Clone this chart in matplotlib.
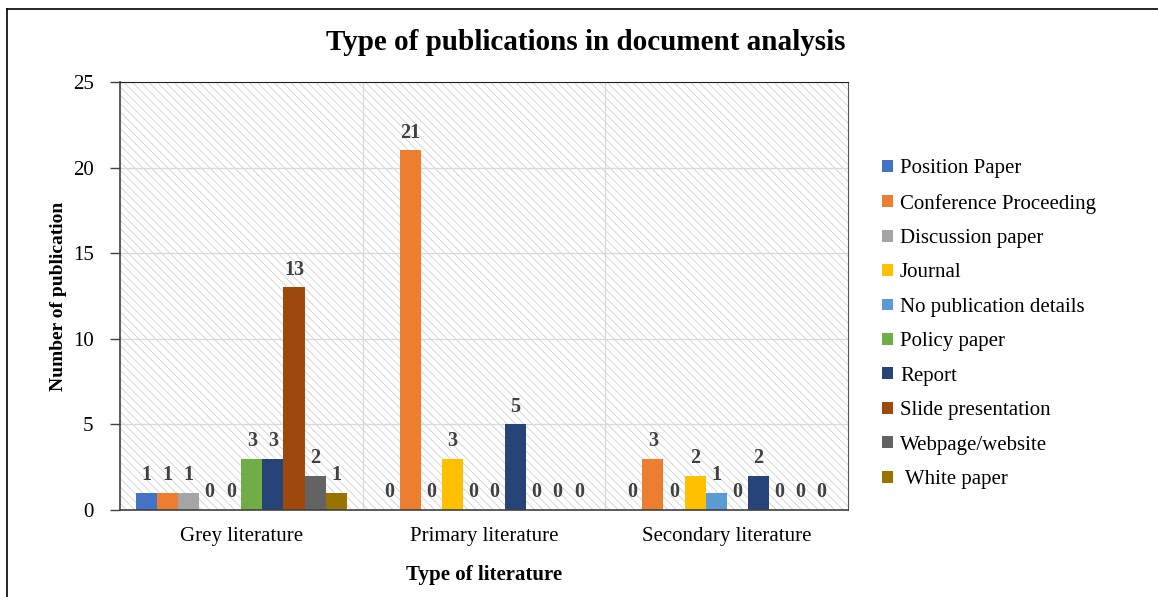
"""
Type of publications in document analysis - grouped bar chart
"""

import numpy as np
import matplotlib
matplotlib.use("Agg")
import matplotlib.pyplot as plt
from matplotlib.patches import Rectangle
from matplotlib.lines import Line2D

categories = ["Grey literature", "Primary literature", "Secondary literature"]
series_names = ["Position Paper", "Conference Proceeding", "Discussion paper", "Journal",
                "No publication details", "Policy paper", "Report", "Slide presentation",
                "Webpage/website", " White paper"]
position_paper = [1, 0, 0]
conference = [1, 21, 3]
discussion = [1, 0, 0]
journal = [0, 3, 2]
no_details = [0, 0, 1]
policy = [3, 0, 0]
report = [3, 5, 2]
slides = [13, 0, 0]
webpage = [2, 0, 0]
white_paper = [1, 0, 0]
values = [position_paper, conference, discussion, journal, no_details,
          policy, report, slides, webpage, white_paper]
colors = ["#4472C4", "#ED7D31", "#A5A5A5", "#FFC000", "#5B9BD5",
          "#70AD47", "#264478", "#9E480E", "#636363", "#997300"]

plt.rcParams["font.family"] = ["Liberation Serif", "DejaVu Serif"]
plt.rcParams["hatch.linewidth"] = 0.6

fig = plt.figure(figsize=(11.58, 5.97), dpi=100)
ax = fig.add_axes([120/1158, 1 - 510/597, 728/1158, 428/597])

# hatched plot background
ax.add_patch(Rectangle((0, 0), 1, 1, transform=ax.transAxes, facecolor="white",
                       edgecolor="#cfcfcf", linewidth=0, hatch="\\\\\\\\", zorder=0))

x = np.arange(len(categories))
w = 21 / 242
for j, (name, vals, c) in enumerate(zip(series_names, values, colors)):
    bars = ax.bar(x + (j - 4.5) * w, vals, w, color=c, label=name, zorder=2)
    for bar, v in zip(bars, vals):
        ax.text(bar.get_x() + bar.get_width()/2, bar.get_height() + 0.45, f"{v}",
                ha="center", va="bottom", fontsize=14.5, fontweight="bold", color="#404040")

ax.set_xlim(-0.5, 2.5)
ax.set_ylim(0, 25)
ax.set_yticks(range(0, 26, 5))
ax.set_xticks(x)
ax.set_xticklabels(categories, fontsize=15)
ax.set_xticks([0.5, 1.5], minor=True)
ax.tick_params(axis="x", which="both", length=0, pad=12)
ax.tick_params(axis="y", labelsize=15, length=7, width=1, pad=12, color="#404040")
ax.grid(True, axis="y", color="#d9d9d9", linewidth=1, zorder=1)
ax.grid(True, axis="x", which="minor", color="#d9d9d9", linewidth=1, zorder=1)
for s in ["left", "bottom"]:
    ax.spines[s].set_color("#404040")
    ax.spines[s].set_linewidth(1.2)
ax.spines["top"].set_color("#202020")
ax.spines["right"].set_color("#555555")

ax.set_xlabel("Type of literature", fontsize=15, fontweight="bold", labelpad=14)
ax.set_ylabel("Number of publication", fontsize=14, fontweight="bold", labelpad=4)

fig.text(0.506, 1 - 42/597, "Type of publications in document analysis",
         ha="center", va="center", fontsize=21, fontweight="bold")

fig.legend(loc="upper left", bbox_to_anchor=(874/1158, 1 - 151/597), frameon=False,
           fontsize=15, handlelength=0.5, handleheight=0.5, handletextpad=0.35,
           labelspacing=0.74, borderaxespad=0)

# outer chart border (top and left visible)
fig.add_artist(Line2D([7/1158, 7/1158], [0, 1 - 9/597], transform=fig.transFigure,
                      color="black", linewidth=1.2))
fig.add_artist(Line2D([7/1158, 1], [1 - 9/597, 1 - 9/597], transform=fig.transFigure,
                      color="black", linewidth=1.2))

fig.savefig("out.png", dpi=100)
plt.close(fig)
